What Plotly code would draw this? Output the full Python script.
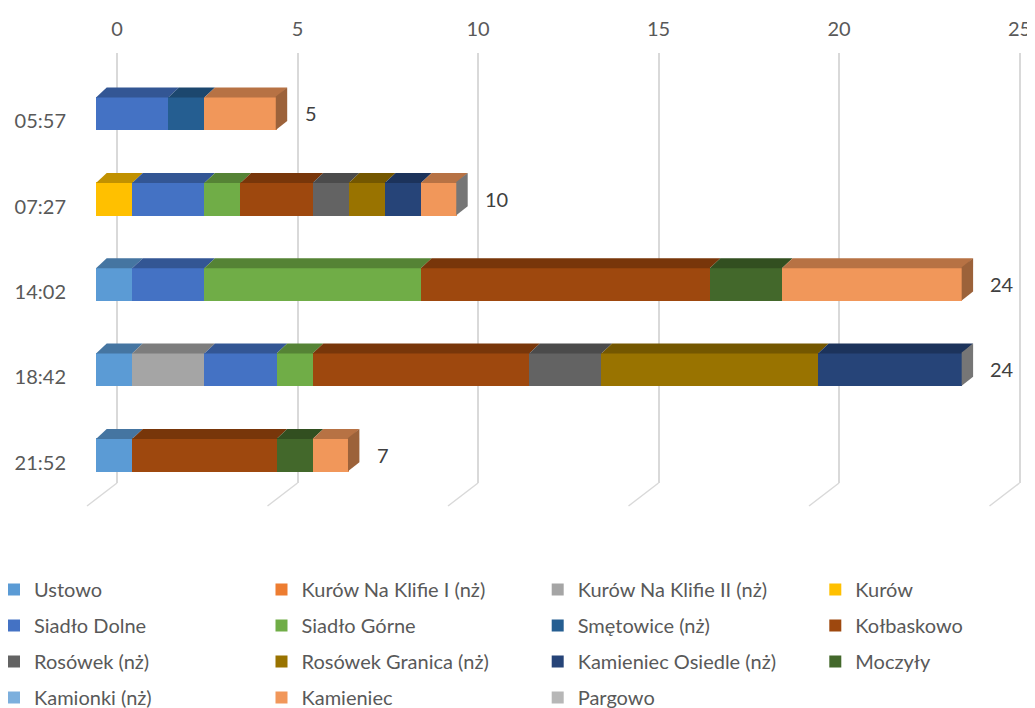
import plotly.graph_objects as go

# departure times (one bar each, top to bottom)
times = ["05:57", "07:27", "14:02", "18:42", "21:52"]

# passengers per stop, per departure (None = no entry)
ustowo = [None, None, 1, 1, 1]
kurow_klif_1 = [None, None, None, None, None]
kurow_klif_2 = [None, None, None, 2, None]
kurow = [None, 1, None, None, None]
siadlo_dolne = [2, 2, 2, 2, None]
siadlo_gorne = [None, 1, 6, 1, None]
smetowice = [1, None, None, None, None]
kolbaskowo = [None, 2, 8, 6, 4]
rosowek = [None, 1, None, 2, None]
rosowek_granica = [None, 1, None, 6, None]
kamieniec_osiedle = [None, 1, None, 4, None]
moczyly = [None, None, 2, None, 1]
kamionki = [None, None, None, None, None]
kamieniec = [2, 1, 5, None, 1]
pargowo = [None, 0, None, 0, None]

x_ticks = [0, 5, 10, 15, 20, 25]

series = [
    ("Ustowo", ustowo, "#5B9BD5"),
    ("Kurów Na Klifie I (nż)", kurow_klif_1, "#ED7D31"),
    ("Kurów Na Klifie II (nż)", kurow_klif_2, "#A5A5A5"),
    ("Kurów", kurow, "#FFC000"),
    ("Siadło Dolne", siadlo_dolne, "#4472C4"),
    ("Siadło Górne", siadlo_gorne, "#70AD47"),
    ("Smętowice (nż)", smetowice, "#255E91"),
    ("Kołbaskowo", kolbaskowo, "#9E480E"),
    ("Rosówek (nż)", rosowek, "#636363"),
    ("Rosówek Granica (nż)", rosowek_granica, "#997300"),
    ("Kamieniec Osiedle (nż)", kamieniec_osiedle, "#264478"),
    ("Moczyły", moczyly, "#43682B"),
    ("Kamionki (nż)", kamionki, "#7CAFDD"),
    ("Kamieniec", kamieniec, "#F1975A"),
    ("Pargowo", pargowo, "#B7B7B7"),
]

# page geometry, in window pixels (the page body has an 8px margin)
PAGE_OFF = 8
W, H = 1035 - PAGE_OFF, 708 - PAGE_OFF
WALL_L, WALL_R = 117, 1019.5      # back wall, 0..25
FRONT = 21                        # bars sit this much left of the wall
WALL_TOP, WALL_BOT = 53, 483
CAT_TOP, CAT_BOT = 70.6, 497.2
BAR_W = 0.39
DX, DY = 10.7, 9                  # 3d depth of the bars
X_MAX = 25
PAD_L, PAD_R = 1, 0.2             # axis room so the edge grid lines get drawn
FONT = "Lato"
GREY = "#595959"
LEGEND_COLS = [-6, 261.5, 537.7, 815.3]
LEGEND_TOP = 570


def fx(px):
    return (px - PAGE_OFF) / W


def fy(px):
    return 1 - (px - PAGE_OFF) / H


px_unit = (WALL_R - WALL_L) / X_MAX
px_cat = (CAT_BOT - CAT_TOP) / len(times)
half = BAR_W / 2 * px_cat
depth = DX / px_unit


def shade(hex_color, k):
    r, g, b = (int(hex_color[i:i + 2], 16) for i in (1, 3, 5))
    return "#%02x%02x%02x" % (int(r * k), int(g * k), int(b * k))


fig = go.Figure()
shapes = []
for idx, (name, vals, color) in enumerate(series):
    col = idx % 4
    fig.add_trace(go.Bar(
        y=times, x=vals, name=name, orientation="h",
        xaxis="x2", yaxis="y", width=BAR_W,
        marker=dict(color=color, line=dict(width=0)),
        legend="legend" if col == 0 else "legend%d" % (col + 1),
        legendgroup=name,
        hovertemplate="%{y}: %{x}<extra>" + name + "</extra>",
    ))

# top faces of every segment, side face at the end of each bar
for j, t in enumerate(times):
    start = 0
    last_color = None
    for name, vals, color in series:
        v = vals[j]
        if v is None:
            continue
        last_color = color
        if v > 0:
            a, b = start, start + v
            shapes.append(dict(
                type="path", xref="x2", yref="y", ysizemode="pixel", yanchor=t,
                path="M%f,%f L%f,%f L%f,%f L%f,%f Z" % (
                    a, half - 1, b, half - 1, b + depth, half + DY, a + depth, half + DY),
                fillcolor=shade(color, 0.76), line=dict(width=0), layer="above"))
        start += v
    shapes.append(dict(
        type="path", xref="x2", yref="y", ysizemode="pixel", yanchor=t,
        path="M%f,%f L%f,%f L%f,%f L%f,%f Z" % (
            start - 0.02, half, start + depth, half + DY,
            start + depth, -half + DY, start - 0.02, -half),
        fillcolor=shade(last_color, 0.65), line=dict(width=0), layer="above"))
    fig.add_annotation(
        x=start, y=t, xref="x2", yref="y", text=str(start), showarrow=False,
        xanchor="left", xshift=26, font=dict(family=FONT, size=20, color="#404040"))

# floor part of the grid lines
for v in x_ticks:
    shapes.append(dict(
        type="line", xref="x", yref="paper", xsizemode="pixel", xanchor=v,
        ysizemode="pixel", yanchor=fy(WALL_BOT),
        x0=0, y0=0, x1=-30, y1=-23,
        line=dict(color="#D9D9D9", width=1.5), layer="below"))

legends = {}
for c, cx in enumerate(LEGEND_COLS):
    key = "legend" if c == 0 else "legend%d" % (c + 1)
    legends[key] = dict(
        orientation="v", x=fx(cx), xanchor="left", y=fy(LEGEND_TOP), yanchor="top",
        tracegroupgap=7, traceorder="grouped",
        font=dict(family=FONT, size=20, color=GREY), bgcolor="rgba(0,0,0,0)")

fig.update_layout(
    width=W, height=H, autosize=False,
    margin=dict(l=0, r=0, t=0, b=0, autoexpand=False),
    paper_bgcolor="white", plot_bgcolor="rgba(0,0,0,0)",
    barmode="stack", bargap=0,
    font=dict(family=FONT, size=20, color=GREY),
    shapes=shapes,
    xaxis=dict(
        domain=[fx(WALL_L - PAD_L * px_unit), fx(WALL_R + PAD_R * px_unit)],
        range=[-PAD_L, X_MAX + PAD_R], anchor="y2", side="top",
        tickvals=x_ticks, showgrid=True, gridcolor="#D9D9D9", gridwidth=1.5,
        zeroline=False, showline=False, ticks="", ticklabelstandoff=12,
        tickfont=dict(family=FONT, size=20, color=GREY), fixedrange=True),
    yaxis2=dict(
        domain=[fy(WALL_BOT), fy(WALL_TOP)], range=[0, 1], anchor="x",
        visible=False, fixedrange=True),
    xaxis2=dict(
        domain=[fx(WALL_L - FRONT), fx(WALL_R - FRONT)], range=[0, X_MAX],
        anchor="y", visible=False, fixedrange=True),
    yaxis=dict(
        domain=[fy(CAT_BOT), fy(CAT_TOP)], anchor="free", position=fx(66),
        categoryorder="array", categoryarray=times, autorange="reversed",
        showgrid=False, zeroline=False, showline=False, ticks="",
        ticklabelshift=-8,
        tickfont=dict(family=FONT, size=20, color=GREY), fixedrange=True),
    **legends,
)

fig.write_html("out.html")
